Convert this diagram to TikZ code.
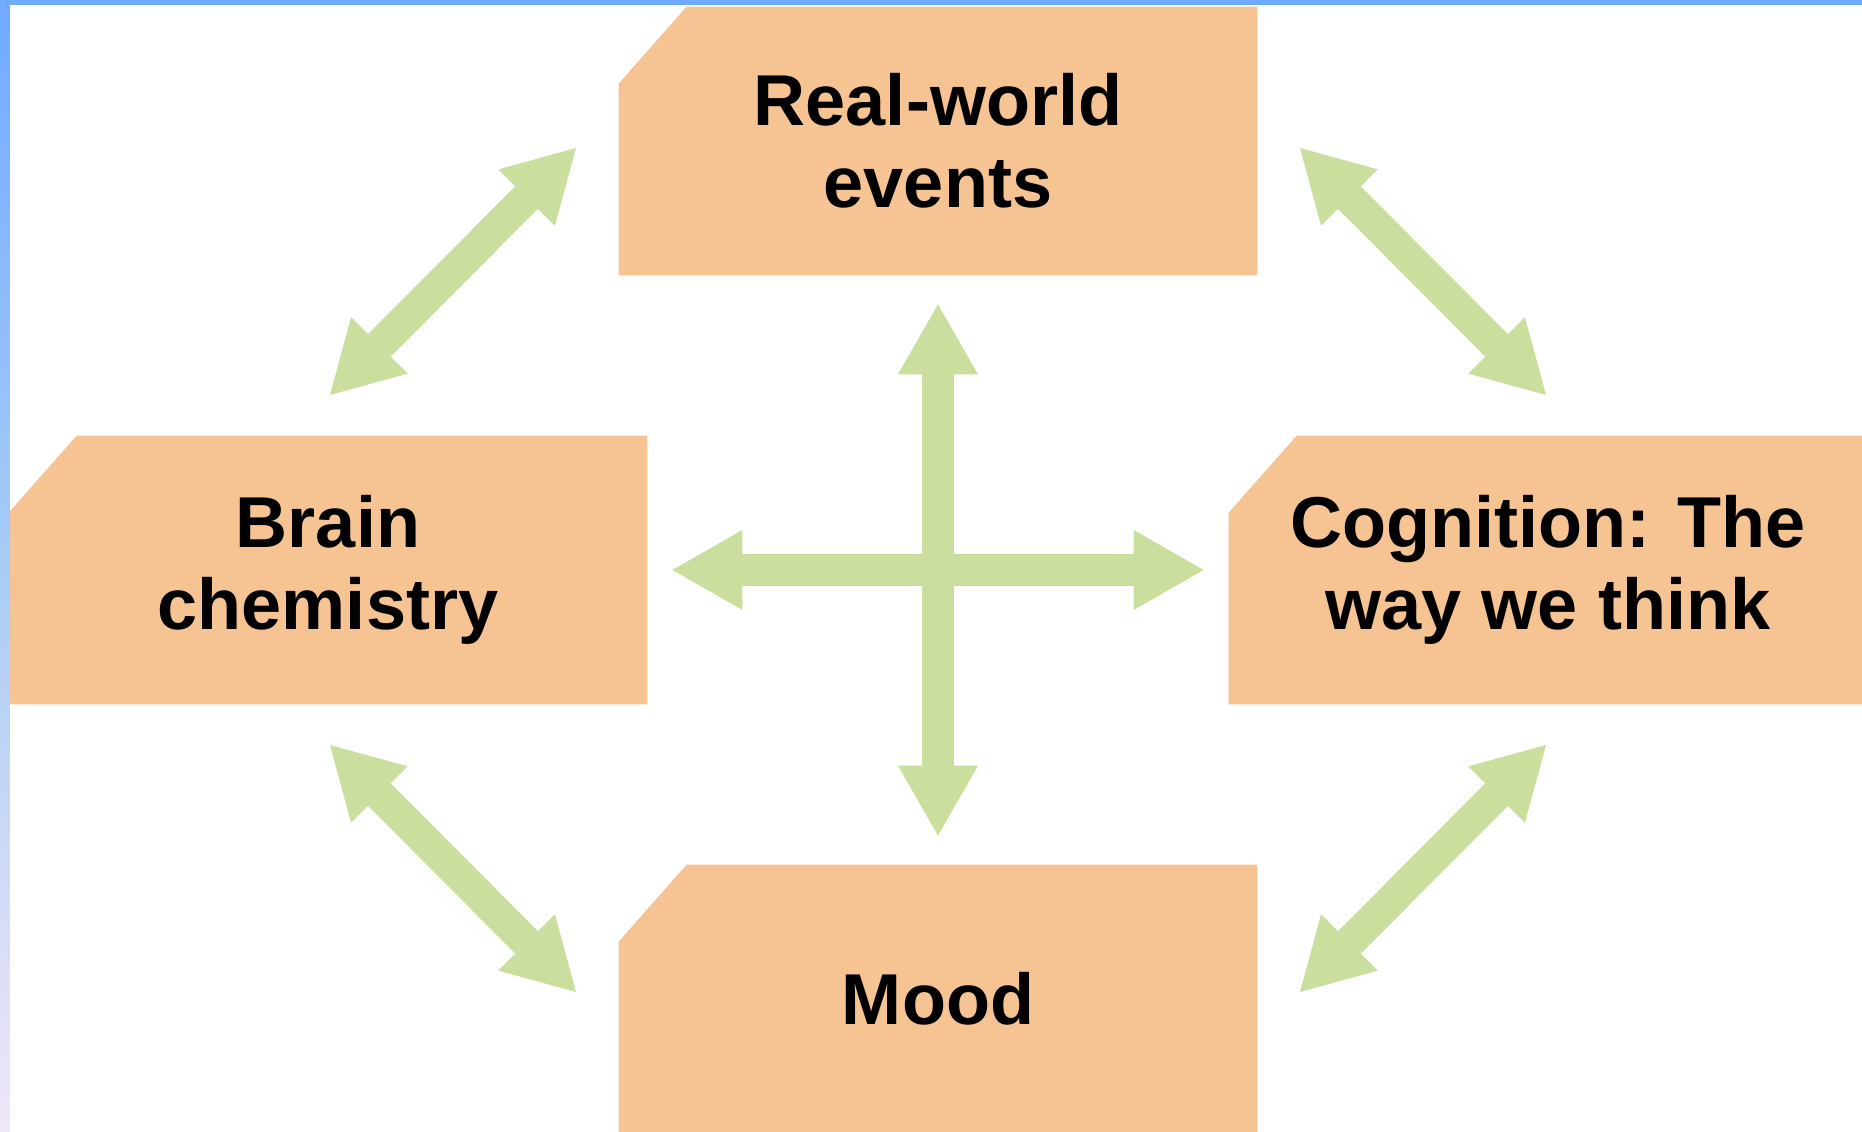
\documentclass[tikz,border=0pt]{standalone}
\usepackage{fontspec}
\setmainfont{Liberation Sans}
\usepackage{xcolor}
\definecolor{peach}{HTML}{F6C392}
\definecolor{leaf}{HTML}{CADF9E}
\definecolor{frameblue}{HTML}{70AAFF}
\definecolor{framemid}{HTML}{A8CCF5}
\definecolor{framelow}{HTML}{F0E6F8}
\usetikzlibrary{arrows.meta}
\usetikzlibrary{backgrounds}

\begin{document}
\begin{tikzpicture}[
        box/.style={minimum width=12.76cm, minimum height=5.36cm, inner sep=0pt, align=center,
            font=\bfseries\fontsize{41}{46.5}\selectfont},
        link/.style={draw=leaf, line width=0.64cm,
            >={Triangle[width=1.6cm, length=1.4cm, line width=0pt]}, <->}
    ]
            \useasboundingbox (0, 0) rectangle (37.24, 22.62);

            \node[box] (events) at (18.76, 19.80) {Real-world\\events};
            \node[box] (brain) at (6.56, 11.22) {Brain\\chemistry};
            \node[box] (cognition) at (30.96, 11.22) {Cognition: The\\way we think};
            \node[box] (mood) at (18.76, 2.64) {Mood};

            \begin{scope}[on background layer] % cut corner boxes behind the text
                \foreach \bx in {events, brain, cognition, mood}
                    \fill[peach] (\bx.south west) -- (\bx.south east) -- (\bx.north east)
                        -- ([xshift=1.36cm]\bx.north west) -- ([yshift=-1.54cm]\bx.north west) -- cycle;
            \end{scope}

            \draw[link, shorten <=0.58cm, shorten >=0.58cm] (events.south) to (mood.north);
            \draw[link, shorten <=0.5cm, shorten >=0.5cm] (brain.east) to (cognition.west);

            \coordinate (be) at (6.60, 14.72);
            \coordinate (eb) at (11.52, 19.66);
            \coordinate (ce) at (30.92, 14.72);
            \coordinate (ec) at (26.00, 19.66);
            \coordinate (bm) at (6.60, 7.72);
            \coordinate (mb) at (11.52, 2.78);
            \coordinate (cm) at (30.92, 7.72);
            \coordinate (mc) at (26.00, 2.78);

            \draw[link] (be) to (eb);
            \draw[link] (ce) to (ec);
            \draw[link] (bm) to (mb);
            \draw[link] (cm) to (mc);

            % frame
            \fill[frameblue] (0, 22.52) rectangle (37.24, 22.62);
            \shade[top color=frameblue, bottom color=framelow, middle color=framemid]
                (0, 0) rectangle (0.2, 22.62);
        \end{tikzpicture}
\end{document}
